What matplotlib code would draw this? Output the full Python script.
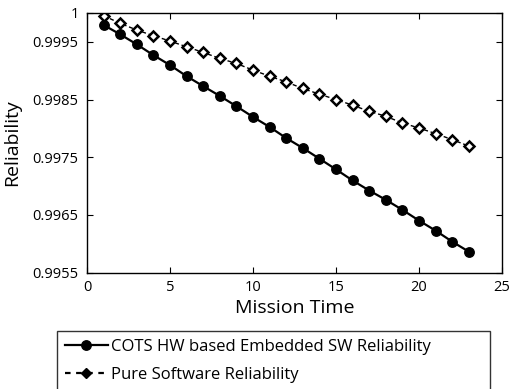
import matplotlib
matplotlib.use("Agg")
import matplotlib.pyplot as plt
from matplotlib.lines import Line2D

plt.rcParams['font.family'] = ['Open Sans', 'DejaVu Sans']

# mission time steps
mission_time = list(range(1, 24))

# COTS HW based embedded SW reliability
cots_rel = [0.999792, 0.999630, 0.999456, 0.999270, 0.999097, 0.998905,
            0.998732, 0.998563, 0.998384, 0.998199, 0.998025, 0.997833,
            0.997660, 0.997476, 0.997290, 0.997098, 0.996924, 0.996763,
            0.996589, 0.996403, 0.996229, 0.996038, 0.995865]

# pure software reliability
sw_rel = [0.999953, 0.999821, 0.999705, 0.999606, 0.999514, 0.999414,
          0.999317, 0.999213, 0.999126, 0.999010, 0.998905, 0.998806,
          0.998692, 0.998593, 0.998501, 0.998402, 0.998297, 0.998210,
          0.998094, 0.998007, 0.997910, 0.997806, 0.997694]

x_ticks = [0, 5, 10, 15, 20, 25]
y_ticks = [0.9955, 0.9965, 0.9975, 0.9985, 0.9995, 1.0]
y_labels = ["0.9955", "0.9965", "0.9975", "0.9985", "0.9995", "1"]

fig = plt.figure(figsize=(5.09, 3.89), dpi=100)
ax = fig.add_axes([87/509, 1 - 272.7/389, (502 - 87)/509, (272.7 - 13)/389])

ax.plot(mission_time, cots_rel, color="black", lw=1.6, marker="o",
        markersize=6.8, markerfacecolor="black", markeredgecolor="black")
ax.plot(mission_time, sw_rel, color="black", lw=1.0, linestyle=(0, (3, 2)),
        marker="D", markersize=5.5, markerfacecolor="white",
        markeredgecolor="black", markeredgewidth=1.8)

ax.set_xlim(0, 25)
ax.set_ylim(0.9955, 1.0)
ax.set_xticks(x_ticks)
ax.set_yticks(y_ticks)
ax.set_yticklabels(y_labels)
ax.tick_params(direction="in", length=4, width=0.8, top=True, right=True,
               labelsize=10.5)
ax.tick_params(axis="y", pad=6)
ax.tick_params(axis="x", pad=5)
for s in ax.spines.values():
    s.set_linewidth(1.0)

ax.set_xlabel("Mission Time", fontsize=14, labelpad=3)
ax.set_ylabel("Reliability", fontsize=14, labelpad=8)

handles = [
    Line2D([], [], color="black", lw=1.6, marker="o", markersize=6.8),
    Line2D([], [], color="black", lw=1.6, linestyle=(0, (2.5, 2.5)),
           marker="D", markersize=5.5),
]
labels = ["COTS HW based Embedded SW Reliability", "Pure Software Reliability"]
leg = fig.legend(handles, labels, loc="upper left",
                 bbox_to_anchor=(57/509, 1 - 335/389, (490 - 57)/509, 0.01),
                 mode="expand", fontsize=12, frameon=True, fancybox=False,
                 edgecolor="black", borderpad=0.45, handlelength=2.6,
                 handletextpad=0.2, labelspacing=0.75, borderaxespad=0)
leg.get_frame().set_linewidth(1.0)

fig.savefig("out.png", dpi=100)
